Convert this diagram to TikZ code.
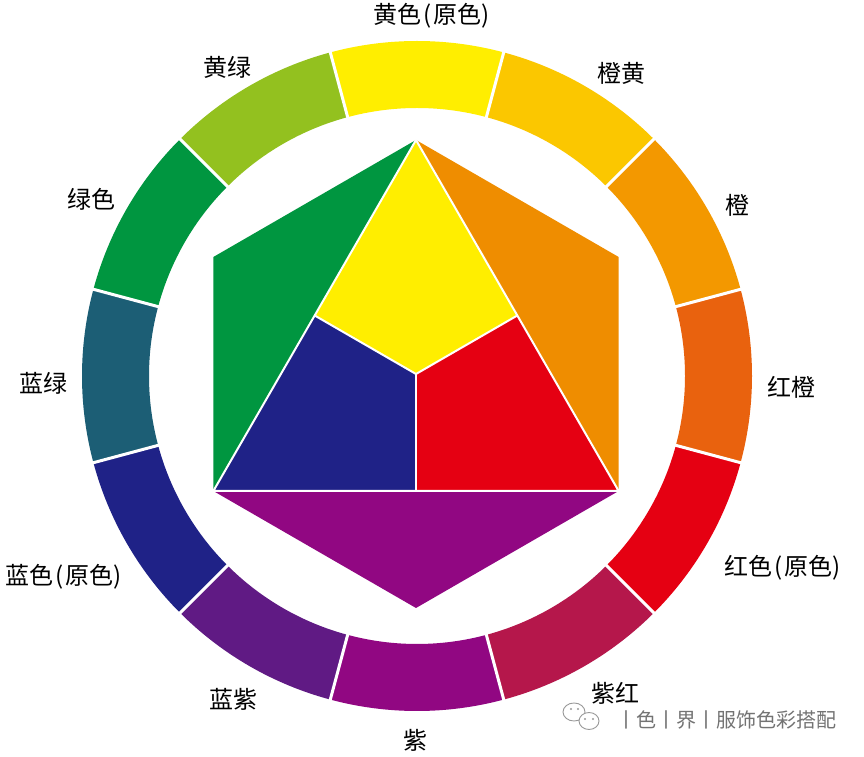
\documentclass[tikz,border=0pt]{standalone}
\usepackage{fontspec}
\setmainfont{Noto Sans CJK SC}
\usetikzlibrary{calc}
\definecolor{cY}{HTML}{FFEE00}
\definecolor{cYO}{HTML}{FBC700}
\definecolor{cO}{HTML}{F39800}
\definecolor{cOh}{HTML}{EF8D00}
\definecolor{cRO}{HTML}{E9620E}
\definecolor{cR}{HTML}{E50012}
\definecolor{cRV}{HTML}{B5174B}
\definecolor{cV}{HTML}{910782}
\definecolor{cBV}{HTML}{601A84}
\definecolor{cB}{HTML}{1F2287}
\definecolor{cBG}{HTML}{1C5E75}
\definecolor{cG}{HTML}{009640}
\definecolor{cYG}{HTML}{93C11F}
\newcommand{\lp}{\kern2pt(\kern1pt}
\newcommand{\rp}{\kern1pt)}
\begin{document}
\begin{tikzpicture}[x=1pt,y=1pt,
  lbl/.style={inner sep=0pt,font=\fontsize{24}{28}\selectfont,text=black},
  wm/.style={inner sep=0pt,font=\fontsize{20}{24}\selectfont,text=black!55},
  sep/.style={white,line width=3pt},
  hsep/.style={white,line width=2pt,line join=miter}]
\useasboundingbox (0,0) rectangle (864,757);
\fill[white] (0,0) rectangle (864,757);
\coordinate (C) at (417,381);
% ring segments
\foreach \a/\col in {90/cY,60/cYO,30/cO,0/cRO,-30/cR,-60/cRV,-90/cV,-120/cBV,-150/cB,180/cBG,150/cG,120/cYG}{
  \fill[\col] ([shift={(\a-15:268)}]C) arc[start angle=\a-15,end angle=\a+15,radius=268]
     -- ([shift={(\a+15:335)}]C) arc[start angle=\a+15,end angle=\a-15,radius=335] -- cycle;
}
\foreach \a in {15,45,...,345}{
  \draw[sep] ([shift={(\a:265)}]C) -- ([shift={(\a:338)}]C);
}
% hexagon
\coordinate (H) at (416,383);
\coordinate (T) at ([shift={(90:234)}]H);
\coordinate (UR) at ([shift={(30:234)}]H);
\coordinate (LR) at ([shift={(-30:234)}]H);
\coordinate (B) at ([shift={(-90:234)}]H);
\coordinate (LL) at ([shift={(210:234)}]H);
\coordinate (UL) at ([shift={(150:234)}]H);
\coordinate (ML) at ($(T)!0.5!(LL)$);
\coordinate (MR) at ($(T)!0.5!(LR)$);
\coordinate (MB) at ($(LL)!0.5!(LR)$);
\fill[cOh] (T) -- (UR) -- (LR) -- cycle;
\fill[cG] (T) -- (LL) -- (UL) -- cycle;
\fill[cV] (LL) -- (LR) -- (B) -- cycle;
\fill[cY] (T) -- (MR) -- (H) -- (ML) -- cycle;
\fill[cR] (MR) -- (LR) -- (MB) -- (H) -- cycle;
\fill[cB] (ML) -- (H) -- (MB) -- (LL) -- cycle;
\draw[hsep] (T) -- (LL) -- (LR) -- cycle;
\draw[hsep] (ML) -- (H) -- (MR);
\draw[hsep] (H) -- (MB);
% labels
\node[lbl] (lY) at (432,741) {黄色\lp 原色\rp};
\node[lbl] (lYO) at (621,684) {橙黄};
\node[lbl] (lO) at (737,552) {橙};
\node[lbl] (lRO) at (791,370) {红橙};
\node[lbl] (lR) at (783,189) {红色\lp 原色\rp};
\node[lbl] (lRV) at (615,64) {紫红};
\node[lbl] (lV) at (415,17) {紫};
\node[lbl] (lBV) at (233,58) {蓝紫};
\node[lbl] (lB) at (64,180) {蓝色\lp 原色\rp};
\node[lbl] (lBG) at (43,374) {蓝绿};
\node[lbl] (lG) at (91,558) {绿色};
\node[lbl] (lYG) at (227,690) {黄绿};
% watermark
\draw[black!40,line width=0.9pt] (574,45) ellipse[x radius=11,y radius=9];
\filldraw[fill=white,draw=black!40,line width=0.9pt] (589,36) ellipse[x radius=10,y radius=8.5];
\fill[black!40] (571,48) circle[radius=1.1] (578,48) circle[radius=1.1];
\fill[black!40] (585,38) circle[radius=1.1] (593,38) circle[radius=1.1];
\node[wm] (wmk) at (726,37) {丨色丨界丨服饰色彩搭配};
\end{tikzpicture}
\end{document}
